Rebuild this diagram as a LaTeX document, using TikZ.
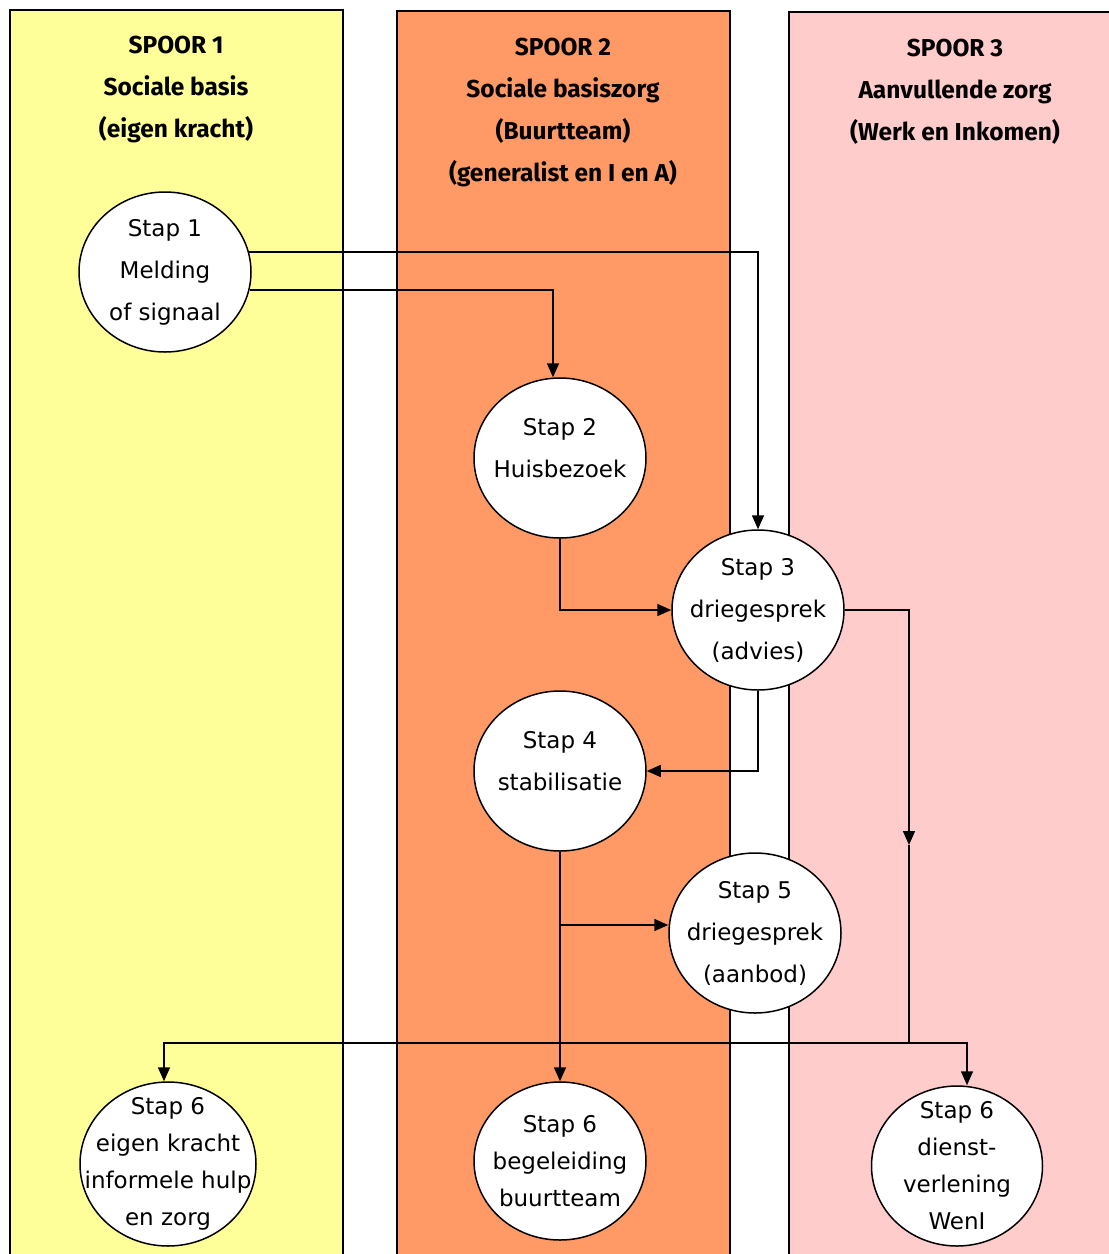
\documentclass[tikz,border=0pt]{standalone}
\usepackage{fontspec}
\usepackage{tikz}
\usetikzlibrary{shapes.geometric,arrows.meta}
\newfontfamily\kopfont{Fira Sans}
\newfontfamily\stapfont{DejaVu Sans}
\definecolor{S1}{HTML}{FFFF99}
\definecolor{S2}{HTML}{FF9966}
\definecolor{S3}{HTML}{FFCCCC}

\tikzset{
  spoor/.style={draw=black, line width=1.2pt},
  kop/.style={font=\kopfont\bfseries\fontsize{24.5}{42}\selectfont, align=center},
  stap/.style={ellipse, draw, line width=1.5pt, fill=white, minimum width=172pt, minimum height=160pt, inner sep=-25pt, align=center, font=\stapfont\fontsize{23}{42}\selectfont},
  stapzes/.style={stap, font=\stapfont\fontsize{23}{37}\selectfont},
  lijn/.style={line width=1.6pt},
  pijl/.style={lijn, -{Triangle[length=14pt,width=12pt]}},
}

\begin{document}
\begin{tikzpicture}[x=1pt, y=-1pt]%
\useasboundingbox (0,0) rectangle (1109,1254);%
\clip (0,0) rectangle (1109,1254);%
% sporen
\fill[white] (0,0) rectangle (1109,1254);%
\filldraw[spoor, fill=S1] (10,10) rectangle (343,1270);%
\filldraw[spoor, fill=S2] (397,11) rectangle (730,1270);%
\filldraw[spoor, fill=S3] (789,12) rectangle (1125,1270);%
\node[kop] (k1) at (176,90) {SPOOR 1\\Sociale basis\\(eigen kracht)};%
\node[kop] (k2) at (563,113) {SPOOR 2\\Sociale basiszorg\\(Buurtteam)\\(generalist en I en A)};%
\node[kop] (k3) at (955,92) {SPOOR 3\\Aanvullende zorg\\(Werk en Inkomen)};%
% stappen
\node[stap] (s1) at (165,272) {Stap 1\\Melding\\of signaal};%
\node[stap] (s2) at (560,458) {Stap 2\\Huisbezoek\\[-22pt]\mbox{}};%
\node[stap] (s3) at (758,610) {Stap 3\\driegesprek\\(advies)};%
\node[stap] (s4) at (560,771) {Stap 4\\stabilisatie\\[-22pt]\mbox{}};%
\node[stap] (s5) at (755,933) {Stap 5\\driegesprek\\(aanbod)};%
\node[stapzes, minimum width=176pt, minimum height=164pt] (s6a) at (168,1164) {Stap 6\\eigen kracht\\informele hulp\\en zorg};%
\node[stapzes, minimum height=158pt] (s6b) at (560,1161) {Stap 6\\begeleiding\\buurtteam};%
\node[stapzes, minimum width=171pt, minimum height=160pt] (s6c) at (957,1166) {Stap 6\\dienst-\\verlening\\WenI};%
% verbindingen
\coordinate (m) at (909,845);%
\coordinate (j) at (909,1043);%
\coordinate (b) at (560,925);%
\draw[pijl] ([yshift=0.5pt]s1.13) -| (s3.north);%
\draw[pijl] (s1.-12) -| ([xshift=-7pt]s2.north);%
\draw[pijl] (s2.south) |- (s3.west);%
\draw[pijl] (s3.south) |- (s4.east);%
\draw[pijl] (s3.east) -| (m);%
\draw[lijn] (m) -- (j);%
\draw[pijl] (j) -| ([xshift=-4pt]s6a.north);%
\draw[pijl] (j) -| ([xshift=10pt]s6c.north);%
\draw[pijl] (s4.south) -- (s6b.north);%
\draw[pijl] (b) -- (b -| s5.west);%
\end{tikzpicture}
\end{document}
